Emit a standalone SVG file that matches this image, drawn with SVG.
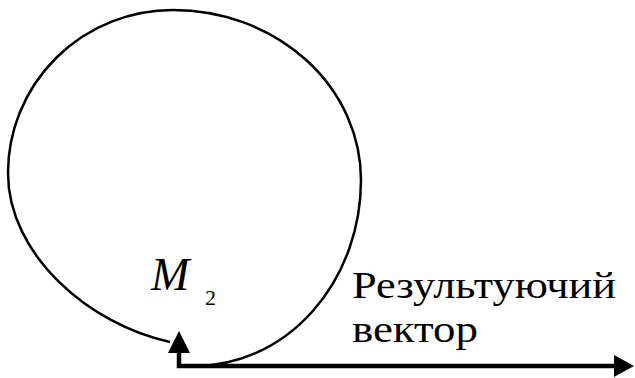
<svg xmlns="http://www.w3.org/2000/svg" width="635" height="378" viewBox="0 0 635 378">
<style>
.curve{fill:none;stroke:#000;stroke-width:2.5}
.vec{fill:none;stroke:#000;stroke-width:4.5}
.head{fill:#000;stroke:none}
</style>
<rect width="635" height="378" fill="#fff"/>
<g id="connectors">
<path class="curve" d="M195 366 A166 186 0 0 0 361 180 A188 170 0 0 0 173 10 A165 163 0 0 0 8 173 C8 255 90 325 170 342"/>
<path class="vec" d="M179 352 L179 366 L616 366"/>
<polygon class="head" points="179,331 190,353 168,353"/>
<polygon class="head" points="634,366 614,355 614,377"/>
</g>
<g id="M2">
<text x="151" y="290" style="font-family:'Liberation Serif',serif;font-size:46px;font-style:italic">M</text>
<text x="205" y="305" style="font-family:'Liberation Serif',serif;font-size:22px">2</text>
</g>
<g id="label">
<text x="352" y="298" style="font-family:'Liberation Serif',serif;font-size:38px" textLength="264" lengthAdjust="spacingAndGlyphs">Результуючий</text>
<text x="352" y="342" style="font-family:'Liberation Serif',serif;font-size:38px" textLength="126" lengthAdjust="spacingAndGlyphs">вектор</text>
</g>
</svg>
